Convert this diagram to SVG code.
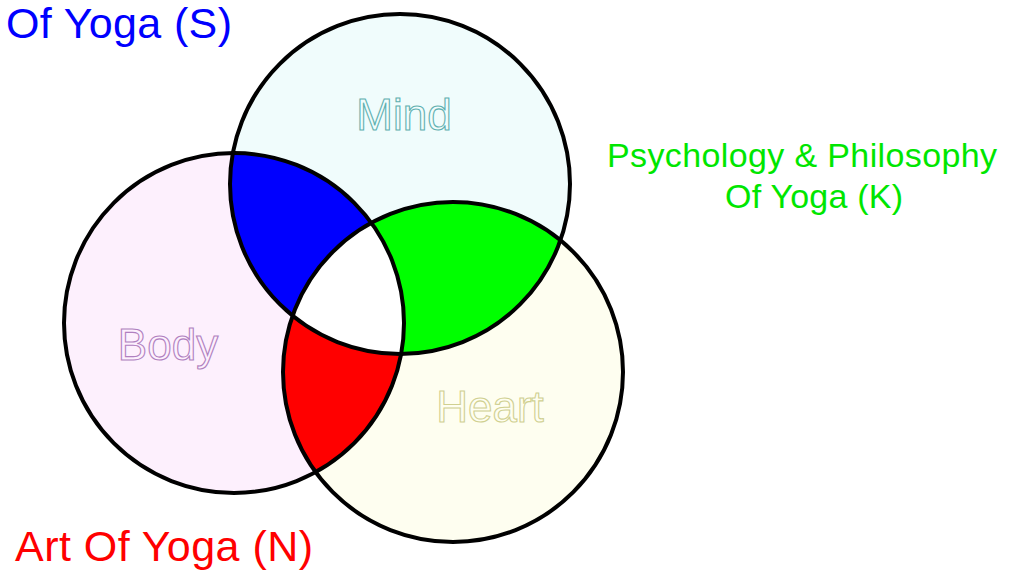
<svg xmlns="http://www.w3.org/2000/svg" width="1012" height="571" viewBox="0 0 1012 571">
<style>
.ring{fill:none;stroke:#000;stroke-width:4}
.lbl{font-family:"Liberation Sans",Arial,sans-serif;font-size:44px;text-anchor:middle;stroke-width:1.1}
.cap{font-family:"Liberation Sans",Arial,sans-serif}
</style>
<defs>
<clipPath id="cMind"><circle cx="400" cy="184" r="170"/></clipPath>
<clipPath id="cBody"><circle cx="234" cy="323" r="170"/></clipPath>
</defs>
<rect width="1012" height="571" fill="#fff"/>
<g id="body"><circle cx="234" cy="323" r="170" fill="#fdf0fd"/></g>
<g id="heart"><circle cx="453" cy="372" r="170" fill="#fefef0"/></g>
<g id="mind"><circle cx="400" cy="184" r="170" fill="#f0fcfc"/></g>
<g id="overlaps">
<circle cx="234" cy="323" r="170" fill="#0000ff" clip-path="url(#cMind)"/>
<circle cx="453" cy="372" r="170" fill="#00ff00" clip-path="url(#cMind)"/>
<circle cx="453" cy="372" r="170" fill="#ff0000" clip-path="url(#cBody)"/>
<g clip-path="url(#cMind)"><circle cx="453" cy="372" r="170" fill="#ffffff" clip-path="url(#cBody)"/></g>
</g>
<g id="outlines">
<circle class="ring" cx="234" cy="323" r="170"/>
<circle class="ring" cx="453" cy="372" r="170"/>
<circle class="ring" cx="400" cy="184" r="170"/>
</g>
<g id="labels">
<text class="lbl" x="404" y="130" fill="#f0fcfc" stroke="#5fb0b0">Mind</text>
<text class="lbl" x="168" y="360" fill="#fdf0fd" stroke="#b080c0">Body</text>
<text class="lbl" x="490" y="422" fill="#fefef0" stroke="#d0d090">Heart</text>
</g>
<text class="cap" x="6" y="38" font-size="43" fill="#0000ff" textLength="226">Of Yoga (S)</text>
<text class="cap" x="15" y="561" font-size="43" fill="#ff0000" textLength="298">Art Of Yoga (N)</text>
<text class="cap" x="607" y="167" font-size="34" fill="#00e600" textLength="390">Psychology &amp; Philosophy</text>
<text class="cap" x="725" y="208" font-size="34" fill="#00e600" textLength="178">Of Yoga (K)</text>
</svg>
